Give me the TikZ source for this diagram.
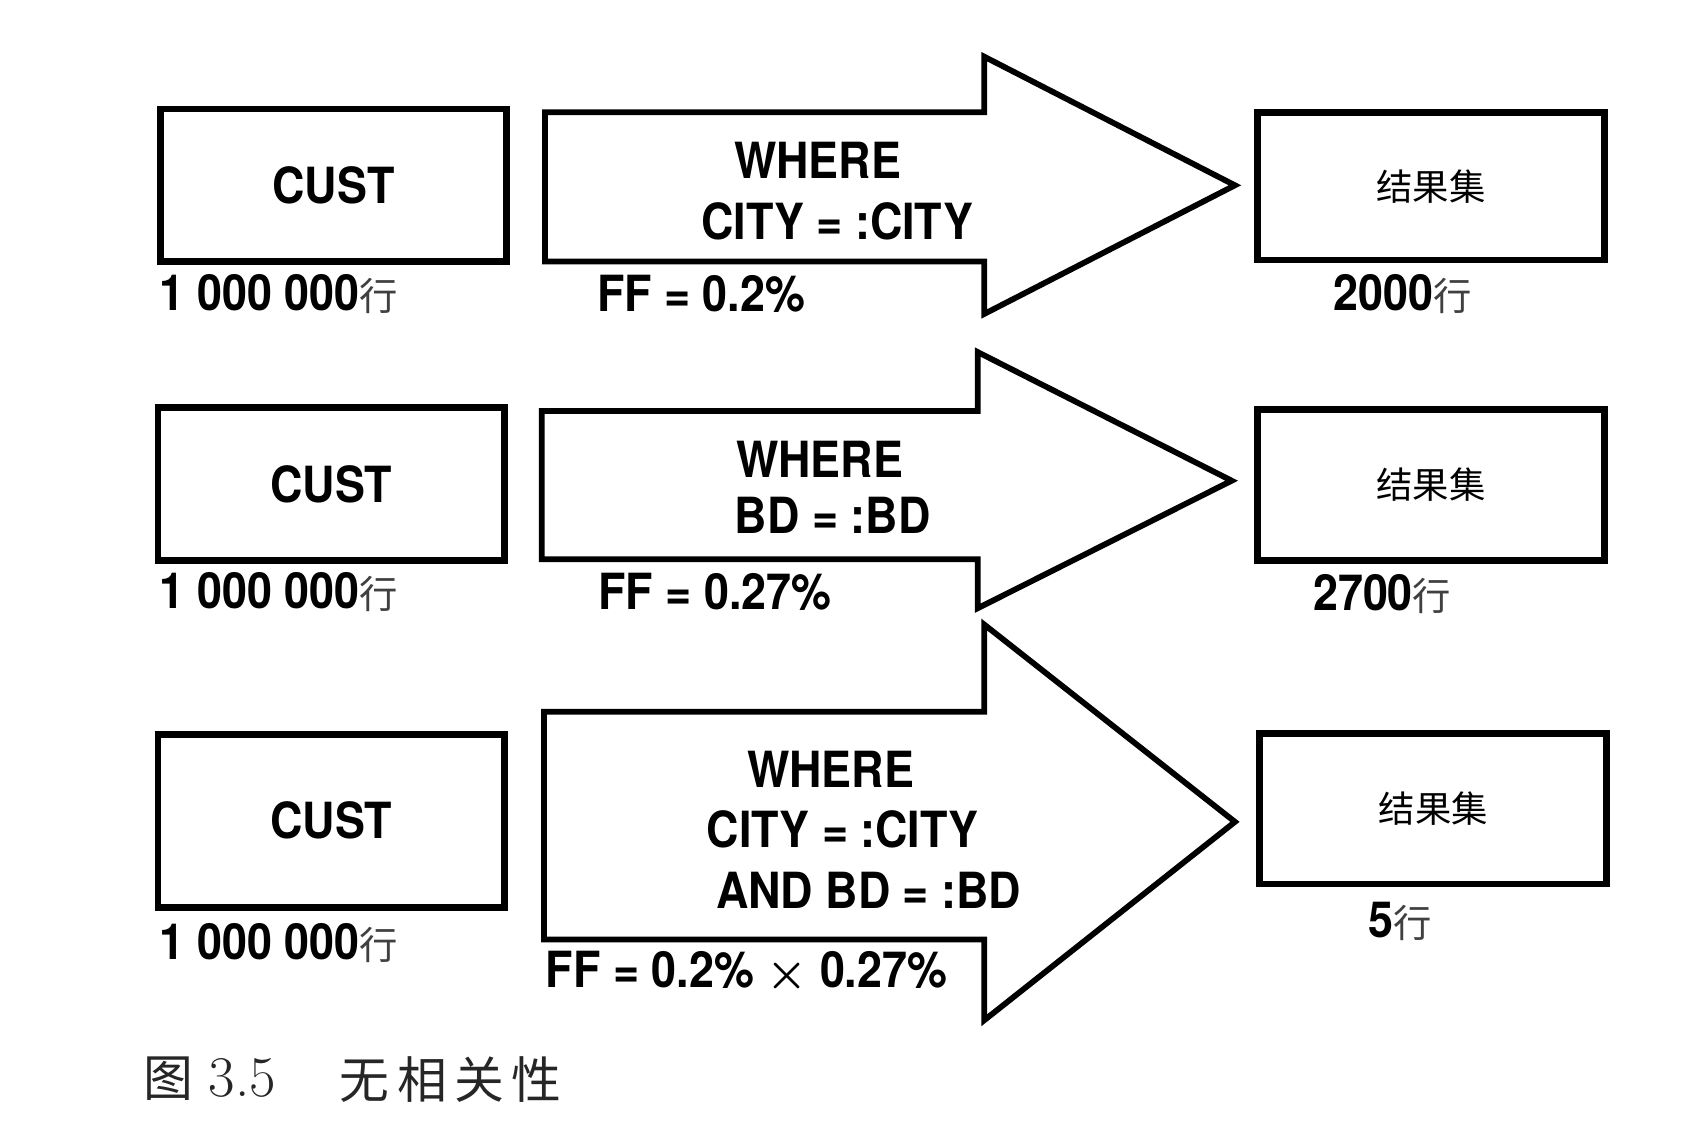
\documentclass[tikz,border=0pt]{standalone}
\usepackage{fontspec}
\newfontfamily\hv[FakeStretch=0.9]{TeX Gyre Heros}
\newfontfamily\cjk{Noto Sans CJK SC}
\newfontfamily\capcjk[LetterSpace=15]{Noto Sans CJK SC}
\usetikzlibrary{positioning}

\tikzset{
every picture/.style={
line width=1pt
},
tbl/.style={draw, line width=1.8pt, minimum width=3.18cm, font=\hv\bfseries\fontsize{13}{15}\selectfont},
res/.style={draw, line width=1.8pt, minimum width=3.18cm, font=\cjk\fontsize{9.5}{11}\selectfont},
pred/.style={inner sep=0pt, font=\hv\bfseries\fontsize{13}{15}\selectfont},
cnt/.style={anchor=west, inner sep=0pt, font=\hv\bfseries\fontsize{13}{15}\selectfont},
blk/.style={line width=1.5pt, line join=miter}
}
\newcommand{\hang}{{\cjk\mdseries\fontsize{10}{12}\selectfont\color{black!75}行}}

\begin{document}
\begin{tikzpicture}[x=0.01cm, y=-0.01cm]
\useasboundingbox (0,0) rectangle (1567,1048);

% row 1: CITY
\node [tbl, minimum height=1.40cm] (cust1) at (306,170) {CUST};
\node [cnt] (n1) at (145,270) {1 000 000\hang};
\draw [blk] (500,103) -- (903,103) -- (903,52) -- (1133,170) -- (903,288) -- (903,240) -- (500,240) -- cycle;
\node [pred] (w1) at (750,147) {WHERE};
\node [pred] (p1) at (768,203) {CITY = :CITY};
\node [cnt] (ff1) at (546,270) {FF = 0.2\%};
\node [res, minimum height=1.35cm] (res1) at (1313,171) {结果集};
\node [cnt] (r1) at (1222,270) {2000\hang};

% row 2: BD
\node [tbl, minimum height=1.40cm] (cust2) at (304,444) {CUST};
\node [cnt] (n2) at (145,543) {1 000 000\hang};
\draw [blk] (497,377) -- (897,377) -- (897,323) -- (1130,441) -- (897,558) -- (897,513) -- (497,513) -- cycle;
\node [pred] (w2) at (752,421) {WHERE};
\node [pred] (p2) at (764,473) {BD = :BD};
\node [cnt] (ff2) at (547,543) {FF = 0.27\%};
\node [res, minimum height=1.38cm] (res2) at (1313,445) {结果集};
\node [cnt] (r2) at (1203,545) {2700\hang};

% row 3: CITY and BD
\node [tbl, minimum height=1.59cm] (cust3) at (304,753) {CUST};
\node [cnt] (n3) at (145,865) {1 000 000\hang};
\draw [blk] (499,653) -- (903,653) -- (903,573) -- (1133,754) -- (903,936) -- (903,862) -- (499,862) -- cycle;
\node [pred] (w3) at (762,706) {WHERE};
\node [pred] (p3) at (773,761) {CITY = :CITY};
\node [pred] (q3) at (797,817) {AND BD = :BD};
\node [cnt] (ff3) at (499,892) {FF = 0.2\% {\boldmath$\times$} 0.27\%};
\node [res, minimum height=1.38cm] (res3) at (1315,742) {结果集};
\node [cnt] (r3) at (1254,845) {5\hang};

% caption
\node [anchor=west, inner sep=0pt, text=black!85] (fig) at (130,990)
  {{\capcjk\fontsize{13}{15}\selectfont 图}\hspace{4pt}{\fontsize{15}{17}\selectfont 3.5}};
\node [anchor=west, inner sep=0pt, text=black!85, font=\capcjk\fontsize{13}{15}\selectfont] (title) at (310,990) {无相关性};
\end{tikzpicture}
\end{document}
